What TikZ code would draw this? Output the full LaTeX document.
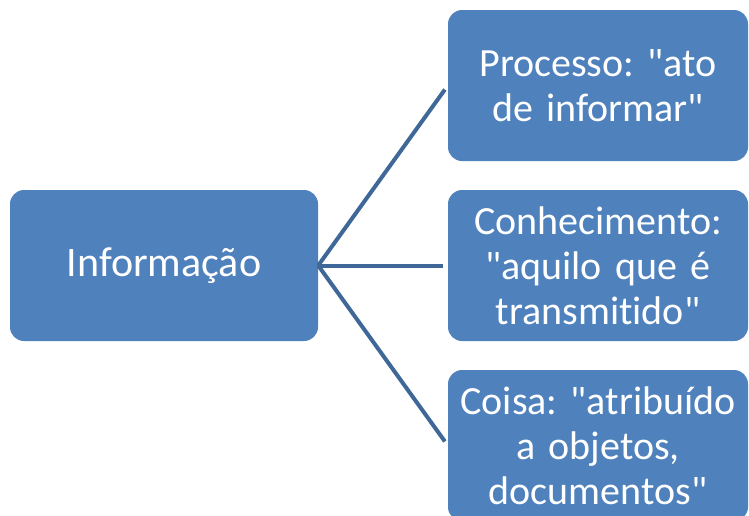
\documentclass[tikz,border=0pt]{standalone}
\usepackage{fontspec}
\newfontfamily\calfont{Carlito}[Ligatures=NoCommon]
\definecolor{boxblue}{HTML}{4F81BD}
\definecolor{lineblue}{HTML}{3F6797}
\begin{document}
\begin{tikzpicture}[x=1pt,y=-1pt,
  box/.style={rectangle, rounded corners=14pt, fill=boxblue, draw=none, text=white,
    inner sep=0pt, align=center, font=\calfont\frenchspacing\fontsize{40}{45}\selectfont},
  conn/.style={draw=lineblue, line width=4pt, shorten >=5pt}]
\clip (0,0) rectangle (749,515);
\useasboundingbox (0,0) rectangle (749,515);
\node[box, minimum width=308pt, minimum height=151pt, font=\calfont\fontsize{42}{46}\selectfont] (L) at (164,265.5) {Informação};
\node[box, minimum width=300pt, minimum height=151pt, text width=300pt] (T) at (598,85.5) {Processo: "ato\\de informar"};
\node[box, minimum width=300pt, minimum height=151pt, text width=300pt] (M) at (598,265.5) {Conhecimento:\\"aquilo que é\\transmitido"};
\node[box, minimum width=300pt, minimum height=151pt, text width=300pt] (B) at (598,445.5) {Coisa: "atribuído\\a objetos,\\documentos"};
\draw[conn] (L.east) -- (T.west);
\draw[conn] (L.east) -- (M.west);
\draw[conn] (L.east) -- (B.west);
\end{tikzpicture}
\end{document}
